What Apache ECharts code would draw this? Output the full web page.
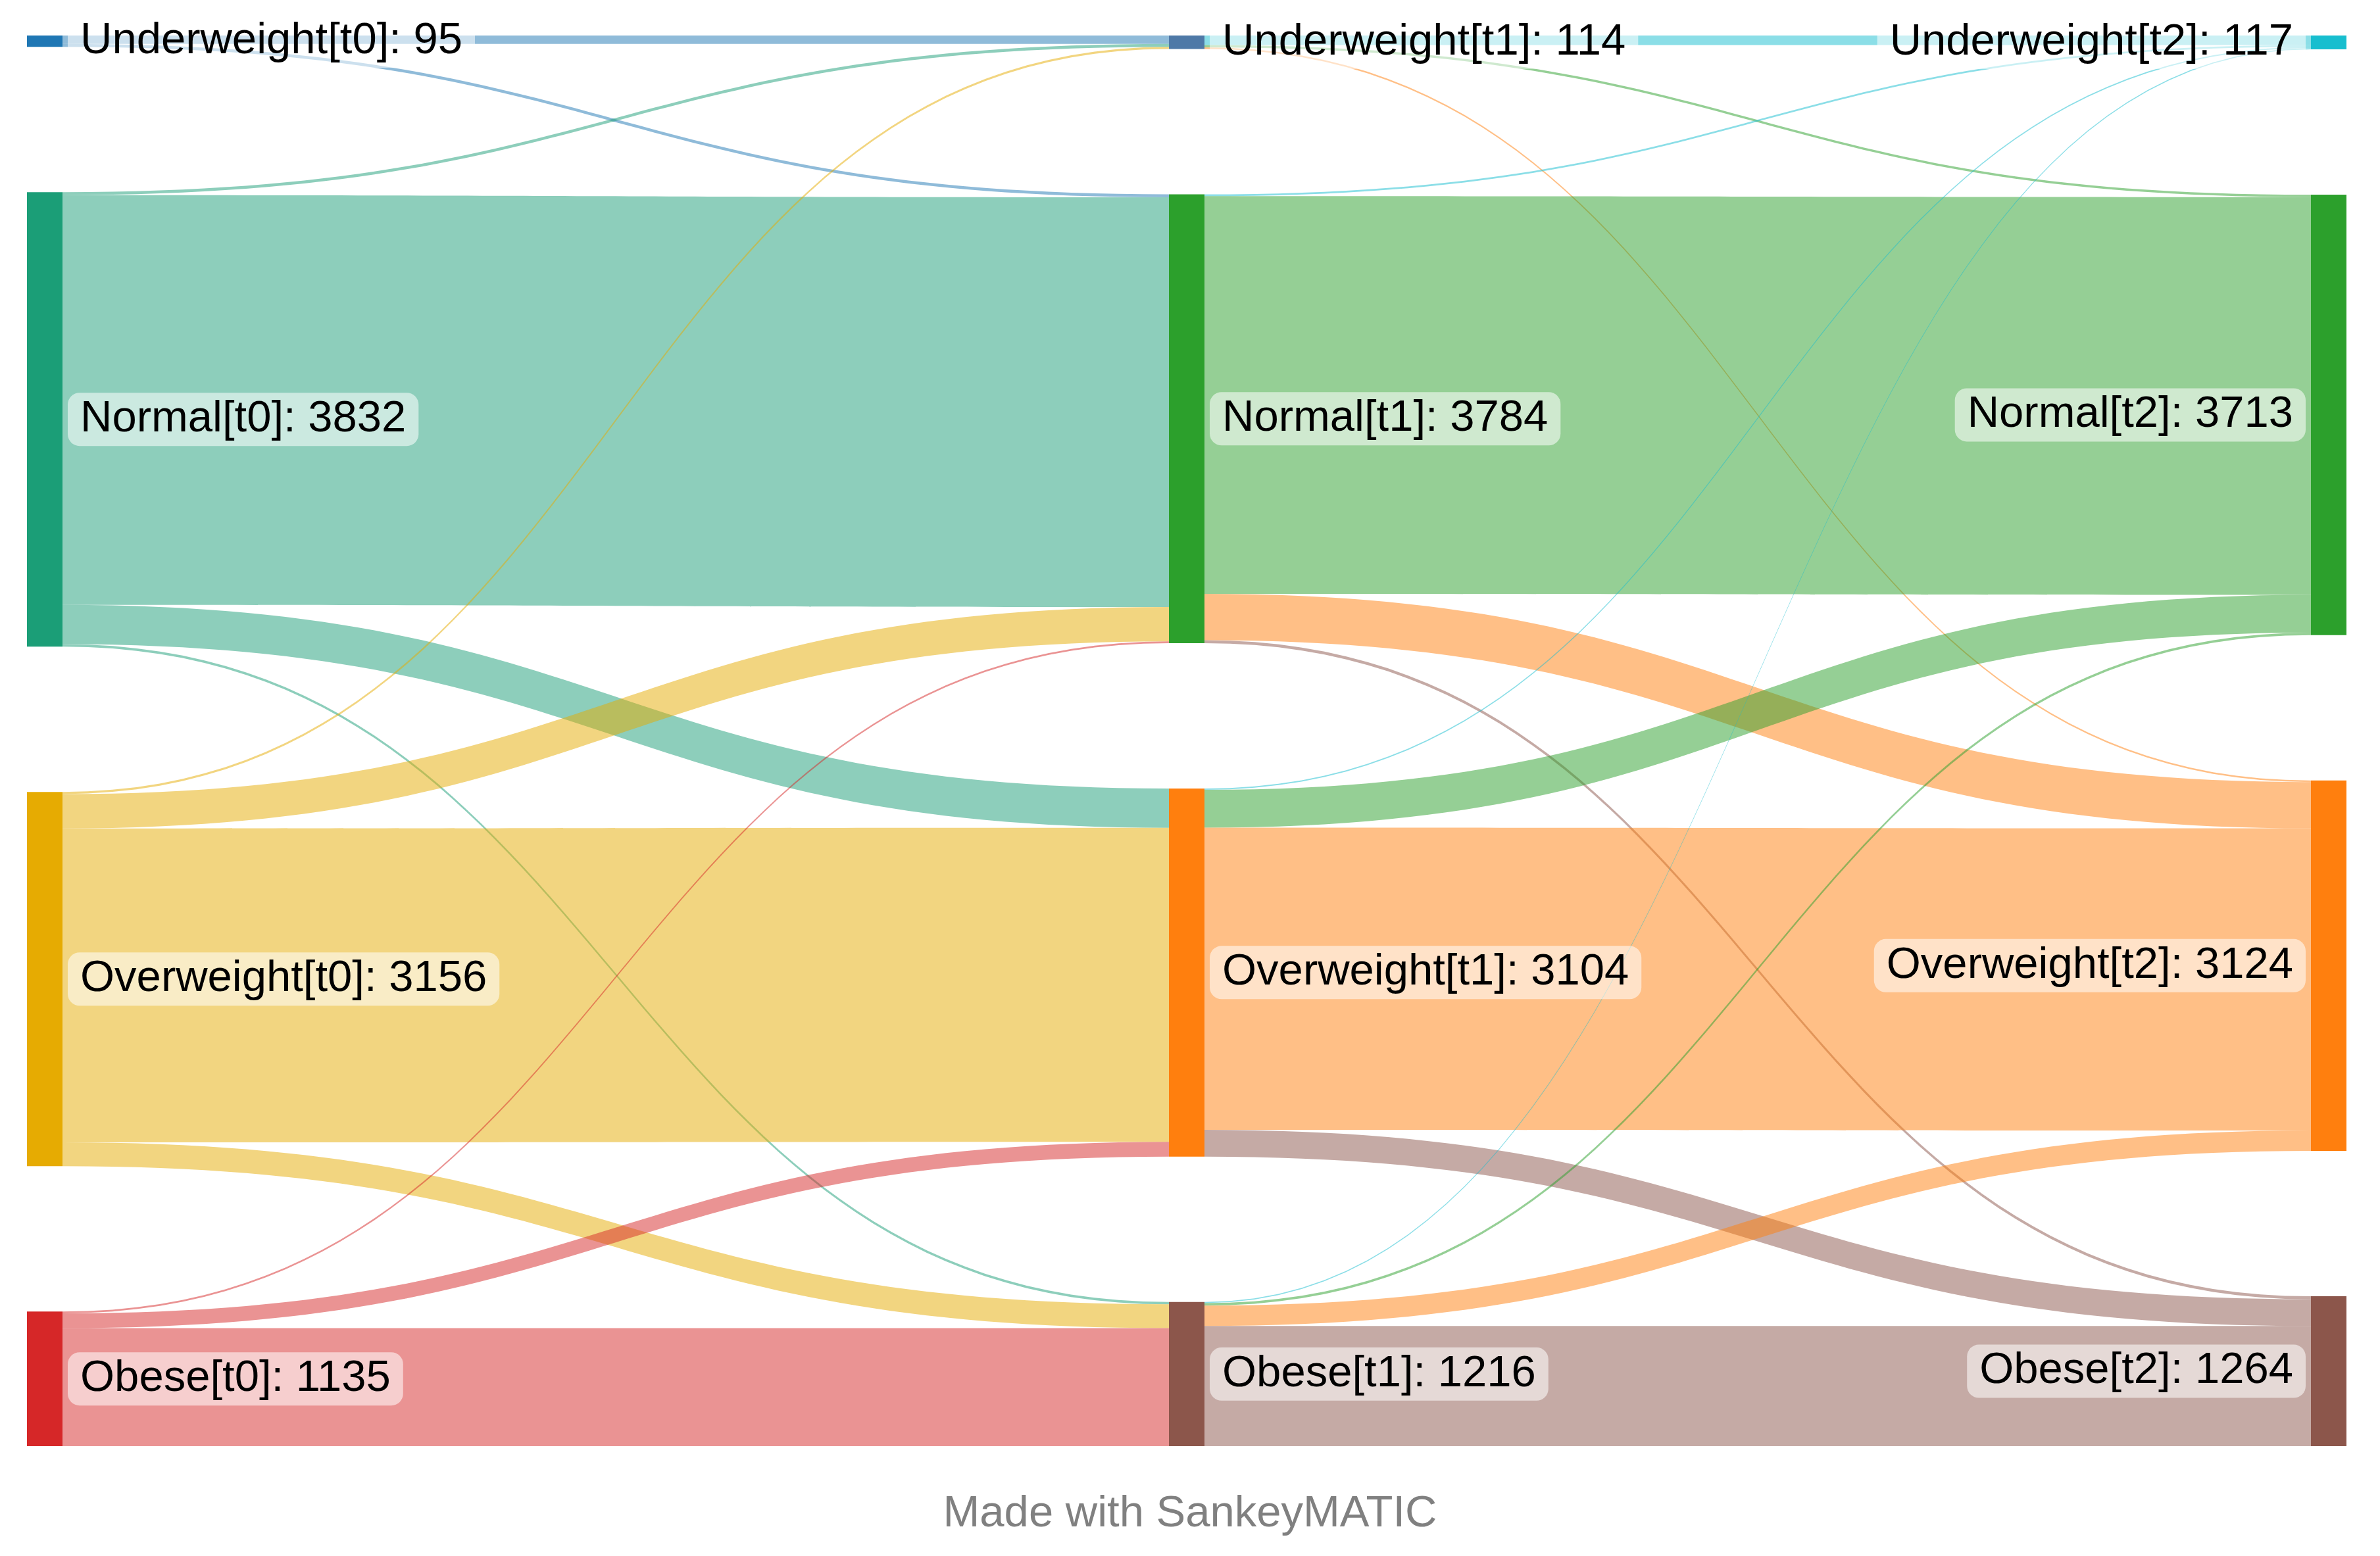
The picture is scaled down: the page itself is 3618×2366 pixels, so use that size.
<!DOCTYPE html>
<html>
<head>
<meta charset="utf-8">
<script src="https://cdn.jsdelivr.net/npm/echarts@6/dist/echarts.min.js"></script>
<style>
html,body{margin:0;padding:0;background:#fff;}
#chart{width:3618px;height:2366px;}
</style>
</head>
<body>
<div id="chart"></div>
<script>
// Categories and stages
const categories = ['Underweight', 'Normal', 'Overweight', 'Obese'];
const stages = ['t0', 't1', 't2'];

// Node totals per stage (same order as categories)
const valuesT0 = [95, 3832, 3156, 1135];
const valuesT1 = [114, 3784, 3104, 1216];
const valuesT2 = [117, 3713, 3124, 1264];

// Flows [fromCategoryIndex, toCategoryIndex, value]
const flowsT0T1 = [
  [0, 0, 71], [0, 1, 24],
  [1, 0, 25], [1, 1, 3455], [1, 2, 332], [1, 3, 20],
  [2, 0, 18], [2, 1, 290], [2, 2, 2647], [2, 3, 201],
  [3, 1, 15], [3, 2, 125], [3, 3, 995]
];
const flowsT1T2 = [
  [0, 0, 80], [0, 1, 20], [0, 2, 14],
  [1, 0, 15], [1, 1, 3354], [1, 2, 390], [1, 3, 25],
  [2, 0, 12], [2, 1, 318], [2, 2, 2548], [2, 3, 226],
  [3, 0, 10], [3, 1, 21], [3, 2, 172], [3, 3, 1013]
];

// Colours
const colorsT0 = ['#1f77b4', '#1b9e77', '#e6ab02', '#d62728'];
const colorsT1 = ['#4e79a7', '#2ca02c', '#ff7f0e', '#8c564b'];
const colorsT2 = ['#17becf', '#2ca02c', '#ff7f0e', '#8c564b'];

const stageValues = [valuesT0, valuesT1, valuesT2];
const stageColors = [colorsT0, colorsT1, colorsT2];
const FONT = '"Liberation Sans", Arial, Helvetica, sans-serif';

function nodeName(ci, si) { return categories[ci] + '[' + stages[si] + ']'; }

const nodes = [];
stages.forEach(function (s, si) {
  categories.forEach(function (c, ci) {
    nodes.push({
      name: nodeName(ci, si),
      value: stageValues[si][ci],
      itemStyle: { color: stageColors[si][ci], borderWidth: 0 },
      label: { position: si === 2 ? 'left' : 'right' }
    });
  });
});

const links = [];
flowsT0T1.forEach(function (f) {
  links.push({
    source: nodeName(f[0], 0), target: nodeName(f[1], 1), value: f[2],
    lineStyle: { color: colorsT0[f[0]] }  // outside-in: source colour on the left half
  });
});
flowsT1T2.forEach(function (f) {
  links.push({
    source: nodeName(f[0], 1), target: nodeName(f[1], 2), value: f[2],
    lineStyle: { color: colorsT2[f[1]] }  // outside-in: target colour on the right half
  });
});

const chart = echarts.init(document.getElementById('chart'), null, { renderer: 'canvas' });
chart.setOption({
  animation: false,
  backgroundColor: '#ffffff',
  title: {
    text: 'Made with SankeyMATIC',
    left: 'center',
    top: 2264,
    textStyle: { fontFamily: FONT, fontSize: 67, fontWeight: 'normal', color: '#808080' }
  },
  series: [{
    type: 'sankey',
    left: 41,
    right: 51,
    top: 54,
    bottom: 167,
    nodeWidth: 54,
    nodeGap: 221,
    layoutIterations: 0,
    draggable: false,
    emphasis: { disabled: true },
    data: nodes,
    links: links,
    lineStyle: { opacity: 0.5, curveness: 0.5 },
    label: {
      show: true,
      formatter: '{b}: {c}',
      fontFamily: FONT,
      fontSize: 67,
      color: '#000',
      distance: 8,
      backgroundColor: 'rgba(255,255,255,0.55)',
      borderRadius: 18,
      padding: [8, 19, 6, 19]
    }
  }]
});
</script>
</body>
</html>
